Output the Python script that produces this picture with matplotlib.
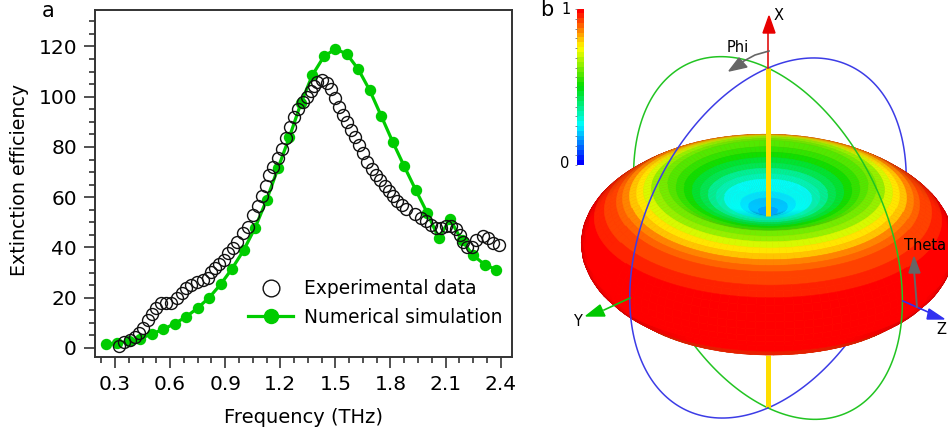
import numpy as np
import matplotlib
matplotlib.use("Agg")
import matplotlib.pyplot as plt
from matplotlib.collections import PolyCollection
from matplotlib.colors import LinearSegmentedColormap
from matplotlib.patches import Polygon
from matplotlib.ticker import MultipleLocator

plt.rcParams["font.family"] = ["DejaVu Sans"]

# panel a
exp_x = [.322, .351, .382, .409, .432, .454, .480, .501, .523, .550, .577, .605, .636, .663, .686, .714,
         .744, .777, .804, .822, .844, .868, .893, .918, .944, .966, .995, 1.025, 1.049, 1.076, 1.102, 1.12,
         1.140, 1.163, 1.185, 1.207, 1.230, 1.252, 1.276, 1.299, 1.325, 1.343, 1.365, 1.385, 1.401,
         1.425, 1.452, 1.474, 1.497, 1.521, 1.543, 1.561, 1.584, 1.608, 1.630, 1.653, 1.675, 1.697,
         1.720, 1.742, 1.769, 1.793, 1.815, 1.838, 1.862, 1.887, 1.932, 1.968, 1.996, 2.023, 2.050,
         2.077, 2.104, 2.132, 2.155, 2.177, 2.195, 2.219, 2.244, 2.268, 2.304, 2.331, 2.358, 2.389]
exp_y = [0.95, 2.4, 3.3, 4.4, 6.0, 8.1, 11.0, 13.4, 16.1, 17.7, 18.0, 18.0, 19.7, 21.9, 24.0, 25.2,
         26.4, 27.2, 28.0, 30.3, 32.0, 33.6, 35.2, 37.6, 39.6, 42.2, 45.6, 48.0, 52.9, 56.6, 60.6, 64.5,
         68.8, 72.1, 75.7, 79.1, 83.7, 87.9, 91.8, 95.2, 98.0, 100.0, 102.4, 104.4, 106.0,
         106.7, 105.6, 103.0, 99.6, 96.0, 92.7, 89.8, 86.8, 84.1, 80.9, 77.5, 74.1, 71.2,
         68.8, 66.8, 64.6, 62.5, 60.6, 58.6, 56.9, 55.3, 53.3, 51.8, 50.6, 48.9, 47.8,
         47.8, 48.5, 48.5, 47.2, 44.9, 42.2, 40.0, 40.2, 42.9, 44.5, 43.6, 41.6, 40.9]
sim_x = [.25, .3125, .375, .4375, .5, .5625, .625, .6875, .75, .8125, .875, .9375, 1.0, 1.0625, 1.125,
         1.1875, 1.25, 1.3125, 1.375, 1.4375, 1.5, 1.5625, 1.625, 1.6875, 1.75, 1.8125, 1.875, 1.9375,
         2.0, 2.0625, 2.125, 2.1875, 2.25, 2.3125, 2.375]
sim_y = [1.5, 2, 2.6, 3.7, 5.6, 7.4, 9.7, 12.4, 15.9, 20, 25.3, 31.6, 38.8, 47.8, 58.8,
         71.5, 84, 97.4, 108.6, 116, 119, 117, 110.9, 102.5, 92.3, 82, 72.3, 62.9,
         53.8, 43.8, 51.2, 42.9, 36.9, 33.2, 31.2]

# panel b, radiation pattern rings: radius, height along X, level
ring_r = [0, 10, 20, 28, 36, 44, 52, 60, 68, 76, 84, 92, 100, 108, 116, 124, 131, 138, 145, 151, 157, 163,
          168, 173, 178, 182, 185, 186, 185, 182, 178, 168, 151, 124, 80, 0]
ring_h = [36, 38, 43, 46, 49, 52, 54, 56, 58, 60, 62, 64, 67, 65, 63, 60, 57, 54, 51, 47, 43, 38,
          34, 29, 23, 16, 8, 0, -8, -16, -23, -34, -47, -60, -72, -80]
ring_v = [.18, .2, .22, .25, .28, .32, .36, .41, .46, .5, .54, .58, .62, .65, .7, .75, .81, .86, .89, .91, .93, .94,
          .955, .97, .985, 1.0, 1.0, 1.0, 1.0, 1.0, .98, .95, .92, .9, .85, .8]

fig = plt.figure(figsize=(9.48, 4.33), dpi=100)
W, H = 948.0, 433.0

ax = fig.add_axes([95 / W, 1 - 357 / H, (512 - 95) / W, (357 - 10) / H])
ax.plot(sim_x, sim_y, "-o", color="#00cc00", lw=2.3, ms=7.2, label="Numerical simulation", zorder=2)
ax.plot(exp_x, exp_y, "o", mfc="none", mec="#111111", mew=1.0, ms=8.6, label="Experimental data", zorder=3)
ax.set_xlim(0.191, 2.462)
ax.set_ylim(-3.6, 134.5)
ax.xaxis.set_major_locator(MultipleLocator(0.3))
ax.xaxis.set_minor_locator(MultipleLocator(0.075))
ax.yaxis.set_major_locator(MultipleLocator(20))
ax.yaxis.set_minor_locator(MultipleLocator(5))
ax.tick_params(which="major", length=8, width=1.2, color="#333333", labelsize=14.5, pad=5)
ax.tick_params(which="minor", length=4, width=1.2, color="#333333")
for s in ax.spines.values():
    s.set_linewidth(1.4)
    s.set_color("#333333")
ax.set_xlabel("Frequency (THz)", fontsize=14)
ax.set_ylabel("Extinction efficiency", fontsize=13.7)
ax.xaxis.set_label_coords((303 - 95) / (512 - 95), -0.148)
ax.yaxis.set_label_coords((29 - 95) / (512 - 95), (357 - 180) / 347)
h, l = ax.get_legend_handles_labels()
ax.legend(h[::-1], l[::-1], loc="lower left", bbox_to_anchor=(0.367, 0.087), frameon=False, fontsize=13.4,
          labelspacing=0.52, handlelength=2.42, handletextpad=0.59, borderpad=0, borderaxespad=0,
          markerscale=1.4)
fig.text(48 / W, 1 - 11 / H, "a", fontsize=15, ha="center", va="center")
fig.text(547 / W, 1 - 10 / H, "b", fontsize=15, ha="center", va="center")

# colour scale
cmap = LinearSegmentedColormap.from_list("pattern", ["#0000ff", "#00ffff", "#00dd00", "#ffff00", "#ff0000"], N=32)
cax = fig.add_axes([577 / W, 1 - 165 / H, 7 / W, 156 / H])
cax.imshow(np.linspace(1, 0, 32).reshape(-1, 1), cmap=cmap, aspect="auto", extent=[0, 1, 0, 1], vmin=0, vmax=1)
cax.set_xticks([])
cax.yaxis.set_major_locator(MultipleLocator(1 / 16))
cax.set_yticklabels([])
cax.tick_params(length=1.5, width=0.6, color="#777777", pad=1)
for s in cax.spines.values():
    s.set_visible(False)
fig.text(566 / W, 1 - 10 / H, "1", fontsize=10.5, ha="center", va="center")
fig.text(565 / W, 1 - 164 / H, "0", fontsize=10.5, ha="center", va="center")

# 3d part in picture pixels
bx = fig.add_axes([530 / W, 0, (W - 530) / W, 1])
bx.set_xlim(530, W)
bx.set_ylim(H, 0)
bx.axis("off")

vx = np.array([0.0, 0.885, 0.465])
vy = np.array([-0.72, -0.31, 0.62])
vz = np.array([0.70, -0.33, 0.63])
cx, cy, R = 768.0, 238.0, 192.0


def to_px(p, dy=0.0):
    return np.column_stack([cx + p[:, 0], cy + dy - p[:, 1]])


# great circles, back half under the pattern, front half over it
t = np.linspace(0, np.pi, 120)
for other, col in [(vz, "#22c422"), (vy, "#3c3ce6")]:
    front = R * (np.outer(np.cos(t), vx) + np.outer(np.sin(t), other))
    back = R * (np.outer(np.cos(t), vx) - np.outer(np.sin(t), other))
    bx.plot(*to_px(front).T, color=col, lw=1.1, zorder=5)
    bx.plot(*to_px(back).T, color=col, lw=1.1, zorder=1)

bx.plot([cx, cx], [355, 408], color="#ffdd00", lw=3.6, zorder=1.5, solid_capstyle="butt")

# pattern surface, sorted back to front
psi = np.linspace(0, 2 * np.pi, 121)
polys, cols, depth = [], [], []
for i in range(len(ring_r) - 1):
    for j in range(len(psi) - 1):
        pts = []
        for k, m in [(i, j), (i, j + 1), (i + 1, j + 1), (i + 1, j)]:
            pts.append(ring_h[k] * vx + ring_r[k] * (np.cos(psi[m]) * vy + np.sin(psi[m]) * vz))
        pts = np.array(pts)
        n = np.cross(pts[2] - pts[0], pts[3] - pts[1])
        nn = np.linalg.norm(n)
        face = abs(n[2]) / nn if nn > 0 else 1.0
        shade = 0.78 + 0.22 * min(1.0, face * 3.5)
        c = np.array(cmap(float(ring_v[i])))
        c[:3] = c[:3] * shade
        polys.append(to_px(pts, 7.0))
        cols.append(c)
        depth.append(pts[:, 2].mean())
order = np.argsort(depth)
surface = PolyCollection([polys[i] for i in order], facecolors=[cols[i] for i in order],
                         edgecolors=[cols[i] for i in order], linewidths=0.4, zorder=2)
bx.add_collection(surface)

# axes arrows
bx.plot([cx, cx], [68, 216], color="#ffdd00", lw=3.6, zorder=6, solid_capstyle="butt")
bx.plot([cx, cx], [68, 33], color="#e01010", lw=1.2, zorder=6)
bx.add_patch(Polygon([[769, 16], [763, 33], [775, 33]], color="#e80000", zorder=7))
bx.plot([630, 604], [298, 310], color="#11c411", lw=1.2, zorder=6)
bx.add_patch(Polygon([[586, 316], [600, 305], [605, 316]], color="#00c800", zorder=7))
bx.plot([903, 928], [301, 312], color="#3030f0", lw=1.2, zorder=6)
bx.add_patch(Polygon([[944, 319], [929, 309], [927, 319]], color="#3030f0", zorder=7))
bx.plot([917, 914], [307, 270], color="#666666", lw=1.4, zorder=6)
bx.add_patch(Polygon([[914, 257], [909, 273], [920, 273]], color="#666666", zorder=7))
bx.plot([769, 755, 742], [51, 55, 62], color="#666666", lw=1.2, zorder=6)
bx.add_patch(Polygon([[729, 71], [739, 58], [747, 67]], color="#666666", zorder=7))
bx.text(779, 15, "X", fontsize=10.5, ha="center", va="center", zorder=8)
bx.text(738, 47, "Phi", fontsize=10.5, ha="center", va="center", zorder=8)
bx.text(577, 321, "Y", fontsize=10.5, ha="center", va="center", zorder=8)
bx.text(925, 246, "Theta", fontsize=10.5, ha="center", va="center", zorder=8)
bx.text(946, 329, "Z", fontsize=10.5, ha="right", va="center", zorder=8)

fig.savefig("out.png", dpi=100)
